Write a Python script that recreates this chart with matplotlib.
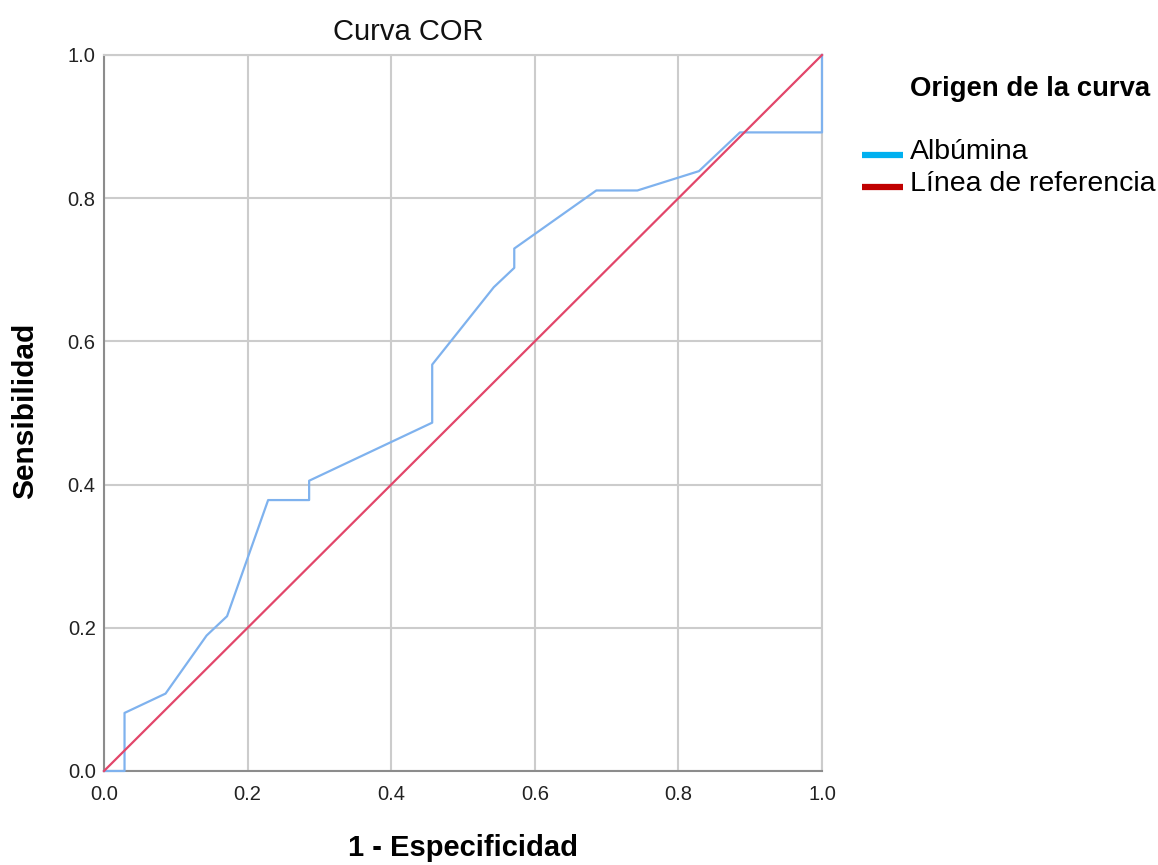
import matplotlib
matplotlib.use("Agg")
import matplotlib.pyplot as plt
from matplotlib.lines import Line2D

plt.rcParams['font.family'] = ['Liberation Sans', 'DejaVu Sans']

# ROC curve data (1 - Especificidad, Sensibilidad)
fpr = [0.0, 0.0286, 0.0286, 0.0857, 0.1429, 0.1714, 0.2286, 0.2857, 0.2857,
       0.4571, 0.4571, 0.5429, 0.5714, 0.5714, 0.6857, 0.7429, 0.8286,
       0.8857, 1.0, 1.0]
tpr = [0.0, 0.0, 0.0811, 0.1081, 0.1892, 0.2162, 0.3784, 0.3784, 0.4054,
       0.4865, 0.5676, 0.6757, 0.7027, 0.7297, 0.8108, 0.8108, 0.8378,
       0.8919, 0.8919, 1.0]
ref = [0.0, 1.0]
ticks = [0.0, 0.2, 0.4, 0.6, 0.8, 1.0]
tick_labels = ["0.0", "0.2", "0.4", "0.6", "0.8", "1.0"]
legend_labels = ["Albúmina", "Línea de referencia"]
legend_colors = ['#00b0f0', '#c00000']

W, H = 1158, 865
fig = plt.figure(figsize=(W / 100, H / 100), dpi=100)
ax = fig.add_axes([104 / W, 1 - 771 / H, 718 / W, 716 / H])

ax.plot(fpr, tpr, color='#7fb2ee', lw=1.6, zorder=3, clip_on=False)
ax.plot(ref, ref, color='#e2466a', lw=1.6, zorder=4, clip_on=False)

ax.set_xlim(0, 1)
ax.set_ylim(0, 1)
ax.set_xticks(ticks)
ax.set_xticklabels(tick_labels)
ax.set_yticks(ticks)
ax.set_yticklabels(tick_labels)
ax.grid(True, color='#cccccc', lw=1.5)
ax.set_axisbelow(True)
for side in ['top', 'right']:
    ax.spines[side].set_color('#cccccc')
    ax.spines[side].set_linewidth(1.5)
for side in ['left', 'bottom']:
    ax.spines[side].set_color('#8c8c8c')
    ax.spines[side].set_linewidth(1.5)
ax.tick_params(length=0, labelsize=14.5, colors='#222222')
ax.tick_params(axis='y', pad=6)
ax.tick_params(axis='x', pad=10)

fig.text(408 / W, 1 - 32 / H, "Curva COR", fontsize=21, ha='center', va='center',
         color='#111111')
fig.text(463 / W, 1 - 848 / H, "1 - Especificidad", fontsize=21,
         fontweight='bold', ha='center', va='center')
fig.text(25 / W, 1 - 411 / H, "Sensibilidad", fontsize=21.5, fontweight='bold',
         ha='center', va='center', rotation=90)

# Legend
fig.text(910 / W, 1 - 89 / H, "Origen de la curva", fontsize=19.8,
         fontweight='bold', va='center', ha='left')
for i, (lab, col) in enumerate(zip(legend_labels, legend_colors)):
    yc = 155 + 32 * i
    fig.add_artist(Line2D([862 / W, 903 / W], [1 - yc / H, 1 - yc / H],
                          color=col, lw=4.5, transform=fig.transFigure,
                          solid_capstyle='butt'))
    fig.text(910 / W, 1 - (yc - 3) / H, lab, fontsize=20.5, va='center', ha='left')

fig.savefig("out.png", dpi=100)
